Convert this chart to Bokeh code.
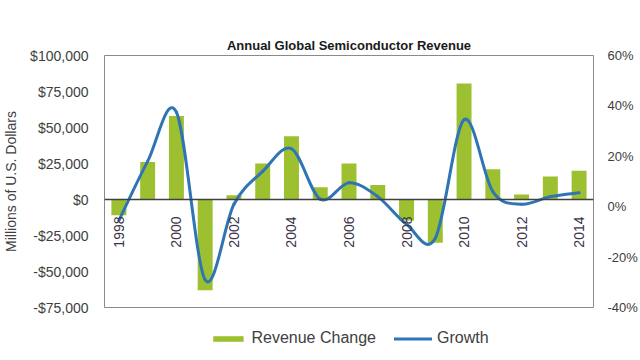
import numpy as np
from bokeh.plotting import figure
from bokeh.models import (Range1d, LinearAxis, FixedTicker, Span, Legend)
from bokeh.core.properties import value
from bokeh.embed import file_html
from bokeh.resources import INLINE

# ---- data ----
years = [1998, 1999, 2000, 2001, 2002, 2003, 2004, 2005, 2006, 2007,
         2008, 2009, 2010, 2011, 2012, 2013, 2014]
revenue_change = [-11000, 26000, 58000, -63000, 3000, 25000, 44000, 8500, 25000, 10000,
                  -14500, -30000, 80500, 21000, 3500, 16000, 20000]
growth = [-5.5, 18.0, 37.5, -29.0, 1.0, 14.0, 23.0, 3.0, 9.5, 4.0,
          -7.0, -12.5, 34.5, 6.0, 1.0, 4.0, 5.5]
label_years = [1998, 2000, 2002, 2004, 2006, 2008, 2010, 2012, 2014]
left_ticks = [-75000, -50000, -25000, 0, 25000, 50000, 75000, 100000]
left_labels = ["-$75,000", "-$50,000", "-$25,000", "$0", "$25,000", "$50,000", "$75,000", "$100,000"]
right_ticks = [-40, -20, 0, 20, 40, 60]
right_labels = ["-40%", "-20%", "0%", "20%", "40%", "60%"]

FONT = "Liberation Sans"
TXT = "#404040"
GREEN = "#9dc030"
BLUE = "#2f75b5"

p = figure(frame_width=489, frame_height=252, output_backend="svg", toolbar_location=None,
           x_range=Range1d(1997.5, 2014.5), y_range=Range1d(-75000, 100000),
           x_axis_location=None,
           min_border_left=100, min_border_right=38, min_border_top=55, min_border_bottom=0)
p.title.text = "Annual Global Semiconductor Revenue"
p.title.align = "center"
p.title.text_font = FONT
p.title.text_font_size = "13px"
p.title.text_font_style = "bold"
p.title.text_color = "#1a1a1a"
p.title.offset = 0
p.title.standoff = 6

p.xgrid.visible = False
p.ygrid.visible = False
p.outline_line_color = "#8a8a8a"
p.outline_line_width = 1
p.background_fill_color = "white"
p.border_fill_color = "white"

yax = p.yaxis[0]
yax.ticker = FixedTicker(ticks=left_ticks)
yax.major_label_overrides = {t: l for t, l in zip(left_ticks, left_labels)}
yax.axis_line_color = None
yax.major_tick_line_color = None
yax.minor_tick_line_color = None
yax.major_label_standoff = 10
yax.major_label_text_font = FONT
yax.major_label_text_font_size = "14px"
yax.major_label_text_color = TXT
yax.axis_label = "Millions of U.S. Dollars"
yax.axis_label_text_font = FONT
yax.axis_label_text_font_size = "14px"
yax.axis_label_text_font_style = "normal"
yax.axis_label_text_color = TXT
yax.axis_label_standoff = 8

p.extra_y_ranges = {"pct": Range1d(-40, 60)}
rax = LinearAxis(y_range_name="pct", ticker=FixedTicker(ticks=right_ticks))
rax.major_label_overrides = {t: l for t, l in zip(right_ticks, right_labels)}
rax.axis_line_color = None
rax.major_tick_line_color = None
rax.minor_tick_line_color = None
rax.major_label_standoff = 8
rax.major_label_text_font = FONT
rax.major_label_text_font_size = "13px"
rax.major_label_text_color = TXT
p.add_layout(rax, "right")

bars = p.vbar(x=years, top=revenue_change, bottom=0, width=0.52,
              fill_color=GREEN, line_color=None)

p.add_layout(Span(location=0, dimension="width", line_color="#404040", line_width=1.5))

# smoothed growth curve (cubic Bezier through the data points)
gx = np.array(years, dtype=float)
gy = np.array(growth, dtype=float)
n = len(gx)
px = np.concatenate([[gx[0]], gx, [gx[-1]]])
py = np.concatenate([[gy[0]], gy, [gy[-1]]])
k = 1.0 / 6.0
x0 = gx[:-1]; y0 = gy[:-1]; x1 = gx[1:]; y1 = gy[1:]
cx0 = x0 + (px[2:n+1] - px[0:n-1]) * k
cy0 = y0 + (py[2:n+1] - py[0:n-1]) * k
cx1 = x1 - (px[3:n+2] - px[1:n]) * k
cy1 = y1 - (py[3:n+2] - py[1:n]) * k
curve = p.bezier(x0=x0, y0=y0, x1=x1, y1=y1, cx0=cx0, cy0=cy0, cx1=cx1, cy1=cy1,
                 line_color=BLUE, line_width=3, line_cap="round", y_range_name="pct")

# year labels along the zero line
p.text(x=label_years, y=[0] * len(label_years), text=[str(y) for y in label_years],
       angle=np.pi / 2, text_align="right", text_baseline="middle", y_offset=17,
       text_font=value(FONT), text_font_size="14px", text_color="#3c3448")

legend = Legend(items=[("Revenue Change", [bars]), ("Growth", [curve])],
                orientation="horizontal", location="top_center", ncols=2, nrows=1,
                glyph_width=38, glyph_height=7, label_text_font=FONT,
                label_text_font_size="16px", label_text_color=TXT,
                border_line_color=None, background_fill_alpha=0,
                spacing=18, label_standoff=5, padding=2, margin=22)
p.add_layout(legend, "below")

open("out.html", "w").write(file_html(p, INLINE))
